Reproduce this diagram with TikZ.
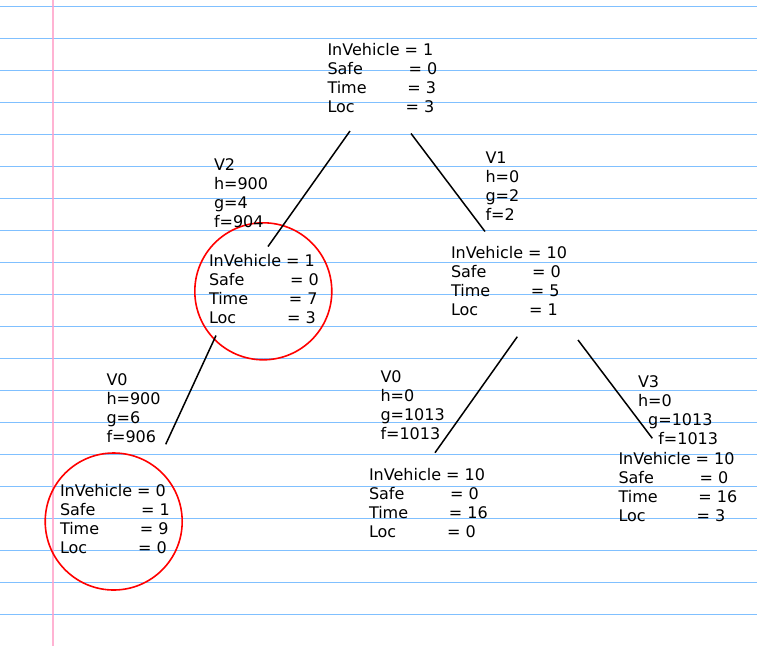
\documentclass[tikz,border=0pt]{standalone}
\usepackage{fontspec}
\setmainfont{DejaVu Sans}
\newcommand\gap[1]{\hspace*{#1\fontdimen2\font}}
\definecolor{ruleblue}{RGB}{128,192,255}
\definecolor{marginpink}{RGB}{255,160,200}
\begin{document}
\begin{tikzpicture}[x=1pt,y=-1pt,
  txt/.style={anchor=north west,inner sep=0pt,outer sep=0pt,align=left,
    font=\fontsize{16}{19}\selectfont,execute at begin node=\strut},
  ring/.style={circle,draw=red,line width=1.6pt,inner sep=0pt,minimum size=137pt},
  link/.style={draw=black,line width=1.5pt}]
\useasboundingbox (0,0) rectangle (757,646);
\fill[white] (0,0) rectangle (757,646);
\foreach \k in {0,...,19}{
  \draw[ruleblue,line width=1pt] (0,6+32*\k) -- (757,6+32*\k);
}
\draw[marginpink,line width=2.4pt,opacity=0.8] (53,0) -- (53,646);
% circles
\node[ring] (c1) at (263.3,291.3) {};
\node[ring] (c2) at (113.7,521.5) {};
% states
\node[txt] (n0) at (327.5,43.7) {InVehicle = 1\\Safe\gap{9}= 0\\Time\gap{8}= 3\\Loc\gap{10}= 3};
\node[txt] (n1) at (209,254.7) {InVehicle = 1\\Safe\gap{9}= 0\\Time\gap{8}= 7\\Loc\gap{10}= 3};
\node[txt] (n2) at (451,246.7) {InVehicle = 10\\Safe\gap{9}= 0\\Time\gap{8}= 5\\Loc\gap{10}= 1};
\node[txt] (n3) at (60,484.7) {InVehicle = 0\\Safe\gap{9}= 1\\Time\gap{8}= 9\\Loc\gap{10}= 0};
\node[txt] (n4) at (369,468.7) {InVehicle = 10\\Safe\gap{9}= 0\\Time\gap{8}= 16\\Loc\gap{10}= 0};
\node[txt] (n5) at (618.5,452.7) {InVehicle = 10\\Safe\gap{9}= 0\\Time\gap{8}= 16\\Loc\gap{10}= 3};
% labels
\node[txt] (l2) at (214,158.2) {V2\\h=900\\g=4\\f=904};
\node[txt] (l1) at (485.5,152.2) {V1\\h=0\\g=2\\f=2};
\node[txt] (l0a) at (106.5,373.7) {V0\\h=900\\g=6\\f=906};
\node[txt] (l0b) at (380.5,370.7) {V0\\h=0\\g=1013\\f=1013};
\node[txt] (l3) at (638,375.2) {V3\\h=0\\\gap{2}g=1013\\\gap{4}f=1013};
% connector end points
\coordinate (a1) at (350,131);   \coordinate (b1) at (268,246.5);
\coordinate (a2) at (411,133.5); \coordinate (b2) at (485,231.5);
\coordinate (a3) at (216,335.5); \coordinate (b3) at (165.7,444.3);
\coordinate (a4) at (517.3,336.7); \coordinate (b4) at (435,452.7);
\coordinate (a5) at (578,340);   \coordinate (b5) at (652.3,438.3);
\draw[link] (a1) -- (b1);
\draw[link] (a2) -- (b2);
\draw[link] (a3) -- (b3);
\draw[link] (a4) -- (b4);
\draw[link] (a5) -- (b5);
\end{tikzpicture}
\end{document}
